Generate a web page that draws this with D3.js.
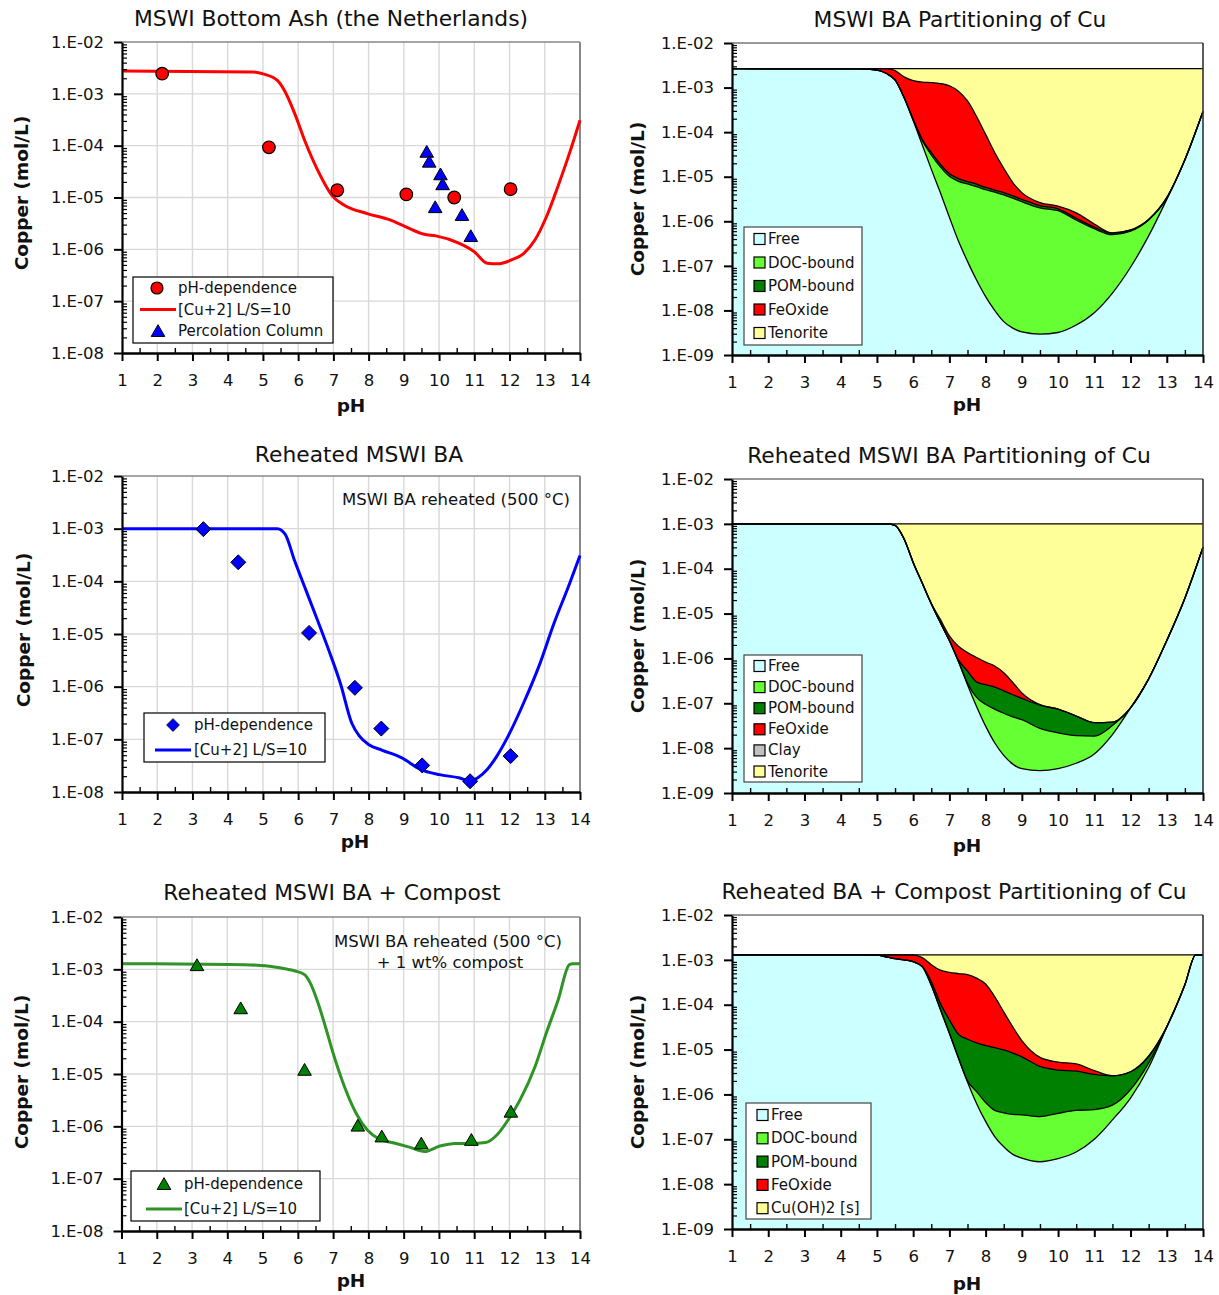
<!DOCTYPE html>
<html><head><meta charset="utf-8">
<script src="https://cdn.jsdelivr.net/npm/d3@7"></script>
<style>
body{margin:0;background:#fff;}
svg{display:block;}
</style></head><body>
<svg id="c" width="1219" height="1295"></svg>
<script>
// ---------------- axis ticks ----------------
const pHTicks = [1,2,3,4,5,6,7,8,9,10,11,12,13,14];
const pHMinor = [1.5,2.5,3.5,4.5,5.5,6.5,7.5,8.5,9.5,10.5,11.5,12.5,13.5];
const yTicks8 = [1e-8,1e-7,1e-6,1e-5,1e-4,1e-3,1e-2];
const yLabels8 = ["1.E-08","1.E-07","1.E-06","1.E-05","1.E-04","1.E-03","1.E-02"];
const yTicks9 = [1e-9,1e-8,1e-7,1e-6,1e-5,1e-4,1e-3,1e-2];
const yLabels9 = ["1.E-09","1.E-08","1.E-07","1.E-06","1.E-05","1.E-04","1.E-03","1.E-02"];

// ---------------- Panel 1: MSWI Bottom Ash (NL) ----------------
const p1LinePH = [1,4.71,5.03,5.41,5.63,5.90,6.22,6.55,6.98,7.31,7.96,8.61,9.04,9.58,9.91,10.56,10.99,11.37,11.64,12.07,12.40,12.72,13.05,13.37,13.70,14];
const p1LineCu = [2.75e-3,2.64e-3,2.4e-3,1.82e-3,1.1e-3,4.2e-4,1.1e-4,3.4e-5,1.05e-5,7.1e-6,4.9e-6,3.7e-6,2.75e-6,1.95e-6,1.82e-6,1.32e-6,9.1e-7,5.4e-7,5.25e-7,6.3e-7,8.3e-7,1.51e-6,4.3e-6,1.62e-5,7.1e-5,3.1e-4];
const p1PhDepPH = [2.14,5.17,7.11,9.07,10.43,12.03];
const p1PhDepCu = [2.45e-3,9.3e-5,1.38e-5,1.15e-5,1.0e-5,1.45e-5];
const p1ColPH = [9.65,9.72,10.04,10.10,9.89,10.65,10.90];
const p1ColCu = [7.6e-5,4.9e-5,2.8e-5,1.8e-5,6.5e-6,4.6e-6,1.8e-6];

// ---------------- Panel 3: Reheated MSWI BA ----------------
const p3LinePH = [1,5.41,5.63,5.90,6.22,6.55,6.87,7.20,7.52,7.74,8.01,8.39,8.93,9.47,10.01,10.56,10.88,11.10,11.37,11.64,11.96,12.40,12.83,13.26,13.70,14];
const p3LineCu = [1.0e-3,1.0e-3,7.9e-4,2.45e-4,6.8e-5,1.82e-5,4.9e-6,1.15e-6,2.04e-7,1.15e-7,7.9e-8,6.2e-8,4.5e-8,2.7e-8,2.14e-8,1.86e-8,1.62e-8,1.86e-8,2.7e-8,4.8e-8,1.15e-7,4.9e-7,2.4e-6,1.58e-5,8.9e-5,3.1e-4];
const p3PhDepPH = [3.31,4.30,6.31,7.61,8.36,9.52,10.88,12.03];
const p3PhDepCu = [9.8e-4,2.3e-4,1.05e-5,9.5e-7,1.6e-7,3.2e-8,1.6e-8,4.8e-8];

// ---------------- Panel 5: Reheated MSWI BA + Compost ----------------
const p5LinePH = [1,4.08,4.95,5.49,5.92,6.19,6.35,6.57,6.78,7.00,7.32,7.65,7.97,8.30,8.73,9.16,9.59,10.03,10.46,10.89,11.32,11.65,11.97,12.30,12.73,13.05,13.38,13.70,13.8,14];
const p5LineCu = [1.28e-3,1.24e-3,1.19e-3,1.07e-3,9.3e-4,7.9e-4,5.5e-4,2.3e-4,8.1e-5,2.5e-5,5.75e-6,1.78e-6,8.5e-7,5.75e-7,4.8e-7,4.0e-7,3.3e-7,4.2e-7,4.7e-7,4.7e-7,4.9e-7,6.9e-7,1.35e-6,3.2e-6,1.41e-5,6.2e-5,2.6e-4,1.23e-3,1.28e-3,1.28e-3];
const p5PhDepPH = [3.14,4.38,6.19,7.70,8.38,9.50,10.92,12.04];
const p5PhDepCu = [1.2e-3,1.8e-4,1.2e-5,1.03e-6,6.4e-7,4.7e-7,5.5e-7,1.9e-6];

// ---------------- Panel 2: MSWI BA partitioning (cumulative upper limits) ----------------
const p2pH = [1,4.5,5,5.25,5.5,5.75,6,6.25,6.5,6.75,7,7.25,7.5,7.75,8,8.25,8.5,8.75,9,9.5,10,10.5,11,11.5,12,12.5,13,13.5,14];
const p2Free  = [2.65e-3,2.63e-3,2.45e-3,2.09e-3,1.48e-3,5.9e-4,1.82e-4,5.2e-5,1.48e-5,4.4e-6,1.23e-6,3.6e-7,1.26e-7,4.8e-8,2.04e-8,1.0e-8,5.6e-9,4.0e-9,3.3e-9,2.95e-9,3.2e-9,4.7e-9,8.9e-9,2.45e-8,9.3e-8,4.7e-7,3.1e-6,2.4e-5,2.9e-4];
const p2UpToDOC = [2.65e-3,2.63e-3,2.45e-3,2.09e-3,1.48e-3,6.0e-4,1.9e-4,6.5e-5,3.1e-5,1.66e-5,1.02e-5,7.9e-6,6.9e-6,6.0e-6,5.1e-6,4.5e-6,3.9e-6,3.3e-6,2.75e-6,2.0e-6,1.74e-6,1.07e-6,6.8e-7,5.0e-7,6.0e-7,1.07e-6,3.3e-6,2.4e-5,2.9e-4];
const p2UpToPOM = [2.65e-3,2.63e-3,2.45e-3,2.09e-3,1.48e-3,6.0e-4,1.95e-4,6.9e-5,3.5e-5,1.9e-5,1.17e-5,9.1e-6,7.8e-6,6.8e-6,5.75e-6,5.0e-6,4.4e-6,3.7e-6,3.1e-6,2.24e-6,1.9e-6,1.17e-6,7.4e-7,5.4e-7,6.3e-7,1.1e-6,3.4e-6,2.4e-5,2.9e-4];
const p2UpToFeOx = [2.65e-3,2.65e-3,2.65e-3,2.65e-3,2.4e-3,1.74e-3,1.43e-3,1.32e-3,1.29e-3,1.23e-3,1.10e-3,8.3e-4,5.0e-4,2.24e-4,8.9e-5,3.5e-5,1.55e-5,7.4e-6,4.4e-6,2.63e-6,2.19e-6,1.55e-6,8.7e-7,5.5e-7,6.4e-7,1.1e-6,3.4e-6,2.4e-5,2.9e-4];
const p2Total = [2.65e-3,2.65e-3,2.65e-3,2.65e-3,2.65e-3,2.65e-3,2.65e-3,2.65e-3,2.65e-3,2.65e-3,2.65e-3,2.65e-3,2.65e-3,2.65e-3,2.65e-3,2.65e-3,2.65e-3,2.65e-3,2.65e-3,2.65e-3,2.65e-3,2.65e-3,2.65e-3,2.65e-3,2.65e-3,2.65e-3,2.65e-3,2.65e-3,2.65e-3];

// ---------------- Panel 4: Reheated MSWI BA partitioning ----------------
const p4pH = [1,4.5,5,5.25,5.5,5.75,6,6.25,6.5,6.75,7,7.25,7.5,7.75,8,8.25,8.5,8.75,9,9.5,10,10.5,11,11.5,12,12.5,13,13.5,14];
const p4Free  = [1.0e-3,1.0e-3,1.0e-3,1.0e-3,9.3e-4,4.6e-4,1.38e-4,4.8e-5,1.66e-5,6.3e-6,2.5e-6,8.5e-7,2.6e-7,8.5e-8,3.1e-8,1.32e-8,6.9e-9,4.4e-9,3.5e-9,3.16e-9,3.5e-9,4.6e-9,7.4e-9,2.0e-8,7.9e-8,3.5e-7,2.5e-6,2.2e-5,3.0e-4];
const p4UpToDOC = [1.0e-3,1.0e-3,1.0e-3,1.0e-3,9.3e-4,4.6e-4,1.38e-4,4.8e-5,1.66e-5,6.3e-6,2.5e-6,8.5e-7,2.8e-7,1.35e-7,9.5e-8,7.4e-8,6.0e-8,5.0e-8,4.3e-8,2.75e-8,2.19e-8,1.9e-8,1.86e-8,3.2e-8,7.9e-8,3.5e-7,2.5e-6,2.2e-5,3.0e-4];
const p4UpToPOM = [1.0e-3,1.0e-3,1.0e-3,1.0e-3,9.3e-4,4.6e-4,1.38e-4,4.8e-5,1.66e-5,6.3e-6,2.5e-6,9.3e-7,5.2e-7,3.0e-7,2.6e-7,2.3e-7,1.9e-7,1.55e-7,1.29e-7,9.1e-8,7.4e-8,5.2e-8,3.7e-8,3.8e-8,7.9e-8,3.5e-7,2.5e-6,2.2e-5,3.0e-4];
const p4UpToFeOx = [1.0e-3,1.0e-3,1.0e-3,1.0e-3,9.3e-4,4.6e-4,1.38e-4,4.8e-5,1.7e-5,7.4e-6,3.2e-6,1.86e-6,1.35e-6,1.05e-6,8.3e-7,6.8e-7,4.8e-7,2.9e-7,1.7e-7,9.3e-8,7.4e-8,5.2e-8,3.7e-8,3.8e-8,7.9e-8,3.5e-7,2.5e-6,2.2e-5,3.0e-4];
const p4Total = [1.0e-3,1.0e-3,1.0e-3,1.0e-3,1.0e-3,1.0e-3,1.0e-3,1.0e-3,1.0e-3,1.0e-3,1.0e-3,1.0e-3,1.0e-3,1.0e-3,1.0e-3,1.0e-3,1.0e-3,1.0e-3,1.0e-3,1.0e-3,1.0e-3,1.0e-3,1.0e-3,1.0e-3,1.0e-3,1.0e-3,1.0e-3,1.0e-3,1.0e-3];

// ---------------- Panel 6: Reheated BA + Compost partitioning ----------------
const p6pH = [1,4.5,5,5.25,5.5,5.75,6,6.25,6.5,6.75,7,7.25,7.5,7.75,8,8.25,8.5,8.75,9,9.5,10,10.5,11,11.5,12,12.5,13,13.5,13.8,14];
const p6Free  = [1.29e-3,1.29e-3,1.27e-3,1.17e-3,1.06e-3,1.0e-3,9.1e-4,7.1e-4,2.7e-4,7.9e-5,2.3e-5,6.5e-6,1.9e-6,6.3e-7,2.5e-7,1.15e-7,6.8e-8,4.6e-8,3.8e-8,3.16e-8,3.7e-8,5.2e-8,1.0e-7,2.7e-7,8.3e-7,4.0e-6,3.2e-5,2.8e-4,1.29e-3,1.29e-3];
const p6UpToDOC = [1.29e-3,1.29e-3,1.27e-3,1.17e-3,1.06e-3,1.0e-3,9.1e-4,7.1e-4,2.7e-4,7.9e-5,2.3e-5,6.5e-6,2.0e-6,1.15e-6,6.6e-7,4.4e-7,3.9e-7,3.6e-7,3.5e-7,3.2e-7,3.8e-7,4.4e-7,4.6e-7,5.75e-7,1.29e-6,5.0e-6,3.2e-5,2.8e-4,1.29e-3,1.29e-3];
const p6UpToPOM = [1.29e-3,1.29e-3,1.27e-3,1.17e-3,1.06e-3,1.0e-3,9.1e-4,7.1e-4,3.3e-4,1.07e-4,4.6e-5,2.2e-5,1.7e-5,1.41e-5,1.23e-5,1.1e-5,9.8e-6,8.3e-6,6.9e-6,4.2e-6,3.5e-6,3.3e-6,2.8e-6,2.6e-6,3.2e-6,7.1e-6,3.2e-5,2.8e-4,1.29e-3,1.29e-3];
const p6UpToFeOx = [1.29e-3,1.29e-3,1.29e-3,1.29e-3,1.29e-3,1.29e-3,1.29e-3,1.12e-3,7.8e-4,5.9e-4,5.25e-4,4.95e-4,4.7e-4,3.9e-4,2.9e-4,1.51e-4,6.9e-5,3.2e-5,1.58e-5,6.7e-6,5.25e-6,4.8e-6,3.4e-6,2.6e-6,3.2e-6,7.1e-6,3.2e-5,2.8e-4,1.29e-3,1.29e-3];
const p6Total = [1.29e-3,1.29e-3,1.29e-3,1.29e-3,1.29e-3,1.29e-3,1.29e-3,1.29e-3,1.29e-3,1.29e-3,1.29e-3,1.29e-3,1.29e-3,1.29e-3,1.29e-3,1.29e-3,1.29e-3,1.29e-3,1.29e-3,1.29e-3,1.29e-3,1.29e-3,1.29e-3,1.29e-3,1.29e-3,1.29e-3,1.29e-3,1.29e-3,1.29e-3,1.29e-3];

// legend names / colours
const speciesColors = {Free:"#CCFFFF","DOC-bound":"#66FF33","POM-bound":"#008000",FeOxide:"#FF0000",Clay:"#C0C0C0",Tenorite:"#FFFF99","Cu(OH)2 [s]":"#FFFF99"};

// ---------------- drawing ----------------
const FONT = "'DejaVu Sans', Verdana, sans-serif";
const svg = d3.select("#c").attr("font-family", FONT);

function makePanel(cfg){
  const g = svg.append("g");
  const x = d3.scaleLinear().domain([1,14]).range([cfg.x0,cfg.x1]);
  const y = d3.scaleLog().domain([cfg.yMin,1e-2]).range([cfg.yB,cfg.yT]);
  return {g,x,y,cfg};
}

function drawGrid(P, yTicks){
  const {g,x,y,cfg} = P;
  const gg = g.append("g").attr("stroke","#d9d9d9").attr("stroke-width",1.4);
  pHTicks.slice(1,-1).forEach(v=>gg.append("line").attr("x1",x(v)).attr("x2",x(v)).attr("y1",cfg.yT).attr("y2",cfg.yB));
  yTicks.slice(1,-1).forEach(v=>gg.append("line").attr("x1",cfg.x0).attr("x2",cfg.x1).attr("y1",y(v)).attr("y2",y(v)));
}

function drawBorder(P, color, wTop, wRight){
  const {g,cfg} = P;
  g.append("line").attr("x1",cfg.x0).attr("x2",cfg.x1).attr("y1",cfg.yT).attr("y2",cfg.yT).attr("stroke",color).attr("stroke-width",wTop);
  g.append("line").attr("x1",cfg.x1).attr("x2",cfg.x1).attr("y1",cfg.yT).attr("y2",cfg.yB).attr("stroke",color).attr("stroke-width",wRight);
}

function drawAxes(P, yTicks, yLabels){
  const {g,x,y,cfg} = P;
  const minor = [];
  yTicks.slice(0,-1).forEach(t=>{ for(let m=2;m<=9;m++) minor.push(m*t); });
  const ym = g.append("g").attr("transform",`translate(${cfg.x0},0)`)
    .call(d3.axisRight(y).tickValues(minor).tickSize(5).tickFormat(""));
  ym.select(".domain").remove();
  ym.selectAll("line").attr("stroke","#000").attr("stroke-width",1.2);
  const ya = g.append("g").attr("transform",`translate(${cfg.x0},0)`)
    .call(d3.axisLeft(y).tickValues(yTicks).tickFormat((d,i)=>yLabels[i]).tickSize(8).tickSizeOuter(0).tickPadding(10));
  ya.select(".domain").attr("stroke","#000").attr("stroke-width",2.2);
  ya.selectAll("line").attr("stroke","#000").attr("stroke-width",2);
  ya.selectAll("text").attr("font-family",FONT).attr("font-size",16.5).attr("fill","#111");
  const xm = g.append("g").attr("transform",`translate(0,${cfg.yB})`)
    .call(d3.axisTop(x).tickValues(pHMinor).tickSize(5).tickFormat(""));
  xm.select(".domain").remove();
  xm.selectAll("line").attr("stroke","#000").attr("stroke-width",1.4);
  const xa = g.append("g").attr("transform",`translate(0,${cfg.yB})`)
    .call(d3.axisBottom(x).tickValues(pHTicks).tickSize(8).tickSizeOuter(0).tickPadding(13));
  xa.select(".domain").attr("stroke","#000").attr("stroke-width",2.4);
  xa.selectAll("line").attr("stroke","#000").attr("stroke-width",2);
  xa.selectAll("text").attr("font-family",FONT).attr("font-size",16.5).attr("fill","#111");
}

function drawTitles(P, t){
  const {g} = P;
  g.append("text").attr("x",t.tx).attr("y",t.ty).attr("text-anchor","middle").attr("font-size",21.8).attr("fill","#111").text(t.title);
  g.append("text").attr("transform",`translate(${t.yx},${t.yy}) rotate(-90)`).attr("text-anchor","middle")
    .attr("font-size",18.5).attr("font-weight","bold").attr("fill","#111").text("Copper (mol/L)");
  g.append("text").attr("x",t.xx).attr("y",t.xy).attr("text-anchor","middle").attr("font-size",18.5).attr("font-weight","bold").attr("fill","#111").text("pH");
}

function drawLine(P, xs, ys, color){
  const {g,x,y} = P;
  const line = d3.line().x((d,i)=>x(xs[i])).y((d,i)=>y(ys[i])).curve(d3.curveMonotoneX);
  g.append("path").datum(xs).attr("d",line).attr("fill","none").attr("stroke",color).attr("stroke-width",3).attr("stroke-linejoin","round");
}

const triPath = d3.symbol(d3.symbolTriangle, 80)();
const diaPath = "M0,-7.5L7.5,0L0,7.5L-7.5,0Z";

function drawMarkers(P, xs, ys, kind, fill){
  const {g,x,y} = P;
  xs.forEach((v,i)=>{
    const cx = x(v), cy = y(ys[i]);
    if(kind==="circle") g.append("circle").attr("cx",cx).attr("cy",cy).attr("r",6.3).attr("fill",fill).attr("stroke","#000").attr("stroke-width",1.2);
    else if(kind==="tri") g.append("path").attr("d",triPath).attr("transform",`translate(${cx},${cy+1.5})`).attr("fill",fill).attr("stroke","#000").attr("stroke-width",1);
    else g.append("path").attr("d",diaPath).attr("transform",`translate(${cx},${cy})`).attr("fill",fill).attr("stroke","#000").attr("stroke-width",1);
  });
}

function lineLegend(P, box, items){
  const {g} = P;
  const lg = g.append("g");
  lg.append("rect").attr("x",box.x).attr("y",box.y).attr("width",box.w).attr("height",box.h).attr("fill","#fff").attr("stroke","#000").attr("stroke-width",1.2);
  items.forEach(it=>{
    if(it.kind==="line") lg.append("line").attr("x1",it.mx-18).attr("x2",it.mx+18).attr("y1",it.y).attr("y2",it.y).attr("stroke",it.color).attr("stroke-width",3);
    else if(it.kind==="circle") lg.append("circle").attr("cx",it.mx).attr("cy",it.y).attr("r",6).attr("fill",it.color).attr("stroke","#000").attr("stroke-width",1.2);
    else if(it.kind==="tri") lg.append("path").attr("d",triPath).attr("transform",`translate(${it.mx},${it.y+1.5})`).attr("fill",it.color).attr("stroke","#000");
    else lg.append("path").attr("d",diaPath).attr("transform",`translate(${it.mx},${it.y}) scale(0.85)`).attr("fill",it.color).attr("stroke","#000");
    lg.append("text").attr("x",box.tx).attr("y",it.y).attr("dominant-baseline","central").attr("font-size",15).attr("fill","#111").text(it.label);
  });
}

function drawStack(P, pH, bounds, colors){
  const {g,x,y,cfg} = P;
  for(let i=0;i<bounds.length;i++){
    const lower = i===0 ? null : bounds[i-1];
    const upper = bounds[i];
    const area = d3.area().x((d,j)=>x(pH[j]))
      .y0((d,j)=> lower ? y(lower[j]) : cfg.yB)
      .y1((d,j)=> y(upper[j])).curve(d3.curveMonotoneX);
    g.append("path").datum(pH).attr("d",area).attr("fill",colors[i]);
  }
  bounds.forEach(b=>{
    const line = d3.line().x((d,j)=>x(pH[j])).y((d,j)=>y(b[j])).curve(d3.curveMonotoneX);
    g.append("path").datum(pH).attr("d",line).attr("fill","none").attr("stroke","#000").attr("stroke-width",1.3);
  });
}

function swatchLegend(P, box, names){
  const {g} = P;
  const lg = g.append("g");
  lg.append("rect").attr("x",box.x).attr("y",box.y).attr("width",box.w).attr("height",box.h).attr("fill","#fff").attr("stroke","#444").attr("stroke-width",1.2);
  names.forEach((n,i)=>{
    const cy = box.y0 + i*box.dy;
    lg.append("rect").attr("x",box.sx).attr("y",cy-5.5).attr("width",11).attr("height",11).attr("fill",speciesColors[n]).attr("stroke","#000").attr("stroke-width",1.2);
    lg.append("text").attr("x",box.sx+14).attr("y",cy).attr("dominant-baseline","central").attr("font-size",15).attr("fill","#111").text(n);
  });
}

// ===== Panel 1 =====
{
  const P = makePanel({x0:122,x1:580,yT:42,yB:353,yMin:1e-8});
  drawGrid(P, yTicks8);
  drawBorder(P,"#888",1.3,2);
  drawLine(P, p1LinePH, p1LineCu, "#FF0000");
  drawMarkers(P, p1PhDepPH, p1PhDepCu, "circle", "#FF0000");
  drawMarkers(P, p1ColPH, p1ColCu, "tri", "#0000FF");
  drawAxes(P, yTicks8, yLabels8);
  drawTitles(P,{title:"MSWI Bottom Ash (the Netherlands)",tx:331,ty:26,yx:28,yy:193,xx:351,xy:412});
  lineLegend(P,{x:133,y:277,w:200,h:66,tx:178},[
    {kind:"circle",mx:157,y:288,color:"#FF0000",label:"pH-dependence"},
    {kind:"line",mx:158,y:309.5,color:"#FF0000",label:"[Cu+2] L/S=10"},
    {kind:"tri",mx:158,y:331,color:"#0000FF",label:"Percolation Column"}]);
}
// ===== Panel 3 =====
{
  const P = makePanel({x0:122,x1:580,yT:476,yB:792,yMin:1e-8});
  drawGrid(P, yTicks8);
  drawBorder(P,"#888",1.3,2);
  drawLine(P, p3LinePH, p3LineCu, "#0000FF");
  drawMarkers(P, p3PhDepPH, p3PhDepCu, "diamond", "#0000FF");
  drawAxes(P, yTicks8, yLabels8);
  drawTitles(P,{title:"Reheated MSWI BA",tx:359,ty:462,yx:30,yy:630,xx:355,xy:848});
  P.g.append("text").attr("x",570).attr("y",505).attr("text-anchor","end").attr("font-size",16.5).attr("fill","#111").text("MSWI BA reheated (500 °C)");
  lineLegend(P,{x:144,y:713,w:181,h:49,tx:194},[
    {kind:"diamond",mx:173,y:725,color:"#0000FF",label:"pH-dependence"},
    {kind:"line",mx:173,y:750,color:"#0000FF",label:"[Cu+2] L/S=10"}]);
}
// ===== Panel 5 =====
{
  const P = makePanel({x0:121.5,x1:580,yT:917,yB:1231,yMin:1e-8});
  drawGrid(P, yTicks8);
  drawBorder(P,"#888",1.3,2);
  drawLine(P, p5LinePH, p5LineCu, "#2E9426");
  drawMarkers(P, p5PhDepPH, p5PhDepCu, "tri", "#008000");
  drawAxes(P, yTicks8, yLabels8);
  drawTitles(P,{title:"Reheated MSWI BA + Compost",tx:332,ty:900,yx:28,yy:1072,xx:351,xy:1287});
  P.g.append("text").attr("x",448).attr("y",947).attr("text-anchor","middle").attr("font-size",16.5).attr("fill","#111").text("MSWI BA reheated (500 °C)");
  P.g.append("text").attr("x",450).attr("y",968).attr("text-anchor","middle").attr("font-size",16.5).attr("fill","#111").text("+ 1 wt% compost");
  lineLegend(P,{x:131,y:1171,w:189,h:50,tx:184},[
    {kind:"tri",mx:164,y:1184,color:"#008000",label:"pH-dependence"},
    {kind:"line",mx:164,y:1209,color:"#2E9426",label:"[Cu+2] L/S=10"}]);
}
const stackColors = ["#CCFFFF","#66FF33","#008000","#FF0000","#FFFF99"];
// ===== Panel 2 =====
{
  const P = makePanel({x0:732,x1:1203,yT:43,yB:355,yMin:1e-9});
  drawStack(P, p2pH, [p2Free,p2UpToDOC,p2UpToPOM,p2UpToFeOx,p2Total], stackColors);
  drawBorder(P,"#333",1.2,1.6);
  drawAxes(P, yTicks9, yLabels9);
  drawTitles(P,{title:"MSWI BA Partitioning of Cu",tx:960,ty:27,yx:644,yy:199,xx:967,xy:411});
  swatchLegend(P,{x:744,y:227,w:118,h:118,sx:754,y0:239,dy:23.5},["Free","DOC-bound","POM-bound","FeOxide","Tenorite"]);
}
// ===== Panel 4 =====
{
  const P = makePanel({x0:732,x1:1203,yT:479,yB:793,yMin:1e-9});
  drawStack(P, p4pH, [p4Free,p4UpToDOC,p4UpToPOM,p4UpToFeOx,p4Total], stackColors);
  drawBorder(P,"#333",1.2,1.6);
  drawAxes(P, yTicks9, yLabels9);
  drawTitles(P,{title:"Reheated MSWI BA Partitioning of Cu",tx:949,ty:463,yx:644,yy:636,xx:967,xy:852});
  swatchLegend(P,{x:744,y:655,w:118,h:127,sx:754,y0:666,dy:21.1},["Free","DOC-bound","POM-bound","FeOxide","Clay","Tenorite"]);
}
// ===== Panel 6 =====
{
  const P = makePanel({x0:732,x1:1203,yT:915,yB:1229,yMin:1e-9});
  drawStack(P, p6pH, [p6Free,p6UpToDOC,p6UpToPOM,p6UpToFeOx,p6Total], stackColors);
  drawBorder(P,"#333",1.2,1.6);
  drawAxes(P, yTicks9, yLabels9);
  drawTitles(P,{title:"Reheated BA + Compost Partitioning of Cu",tx:954,ty:899,yx:644,yy:1072,xx:967,xy:1290});
  swatchLegend(P,{x:746,y:1103,w:125,h:116,sx:757,y0:1115,dy:23.3},["Free","DOC-bound","POM-bound","FeOxide","Cu(OH)2 [s]"]);
}
</script></body></html>
